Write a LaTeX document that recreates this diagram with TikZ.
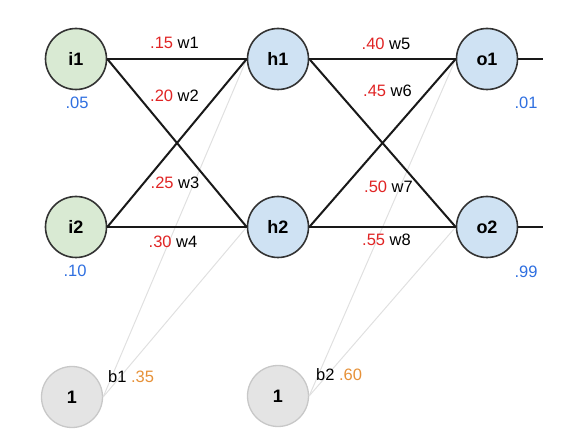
\documentclass[tikz,border=0pt]{standalone}
\usepackage{fontspec}
\setmainfont{Liberation Sans}
\definecolor{ingreen}{HTML}{D9EAD3}
\definecolor{nblue}{HTML}{CFE2F3}
\definecolor{biasgray}{HTML}{E4E4E4}
\definecolor{biasline}{HTML}{C8C8C8}
\definecolor{edge}{HTML}{333333}
\definecolor{wred}{HTML}{E02424}
\definecolor{vblue}{HTML}{2F6FE0}
\definecolor{borange}{HTML}{E69138}
\begin{document}
\begin{tikzpicture}[x=1pt,y=-1pt,
  neuron/.style={circle,draw=edge,line width=1.6pt,minimum size=61pt,inner sep=0pt,
    font=\fontsize{18}{20}\selectfont\bfseries},
  bias/.style={circle,draw=biasline,fill=biasgray,line width=1.3pt,minimum size=61pt,inner sep=0pt,
    font=\fontsize{18}{20}\selectfont\bfseries},
  wline/.style={line width=2pt,draw=black!90},
  bline/.style={line width=1pt,draw=black!12},
  wlabel/.style={anchor=west,inner sep=0pt,font=\fontsize{16.5}{18}\selectfont},
  val/.style={inner sep=0pt,text=vblue,font=\fontsize{16.5}{18}\selectfont}]
\useasboundingbox (0,0) rectangle (576,446);
% neurons
\node[neuron,fill=ingreen] (i1) at (76,59) {i1};
\node[neuron,fill=ingreen] (i2) at (76,227) {i2};
\node[neuron,fill=nblue] (h1) at (278,59) {h1};
\node[neuron,fill=nblue] (h2) at (278,227) {h2};
\node[neuron,fill=nblue] (o1) at (487,59) {o1};
\node[neuron,fill=nblue] (o2) at (487,227) {o2};
\node[bias] (bias1) at (72,397) {1};
\node[bias] (bias2) at (278,396) {1};
\coordinate (out1) at (543,59);
\coordinate (out2) at (543,227);
% bias connections
\foreach \a/\b in {bias1/h1,bias1/h2,bias2/o1,bias2/o2}
  \draw[bline] (\a.east) -- (\b.west);
% weights
\foreach \a/\b in {i1/h1,i1/h2,i2/h1,i2/h2,h1/o1,h1/o2,h2/o1,h2/o2}
  \draw[wline] (\a.east) -- (\b.west);
\draw[wline] (o1.east) -- (out1);
\draw[wline] (o2.east) -- (out2);
% labels
\foreach \px/\py/\v/\w in {150/42.5/.15/w1,150/95.5/.20/w2,150.5/183/.25/w3,148.5/241.5/.30/w4,
  361.5/44/.40/w5,363/91/.45/w6,364/186.5/.50/w7,362/240/.55/w8}
  \node[wlabel] (lbl\w) at (\px,\py) {\textcolor{wred}{\v} \w};
\node[wlabel] (lblb1) at (108,377) {b1 \textcolor{borange}{.35}};
\node[wlabel] (lblb2) at (316,375) {b2 \textcolor{borange}{.60}};
\node[val] (vi1) at (77,103) {.05};
\node[val] (vi2) at (75,271) {.10};
\node[val] (vo1) at (526,103) {.01};
\node[val] (vo2) at (526,272) {.99};
\end{tikzpicture}
\end{document}
